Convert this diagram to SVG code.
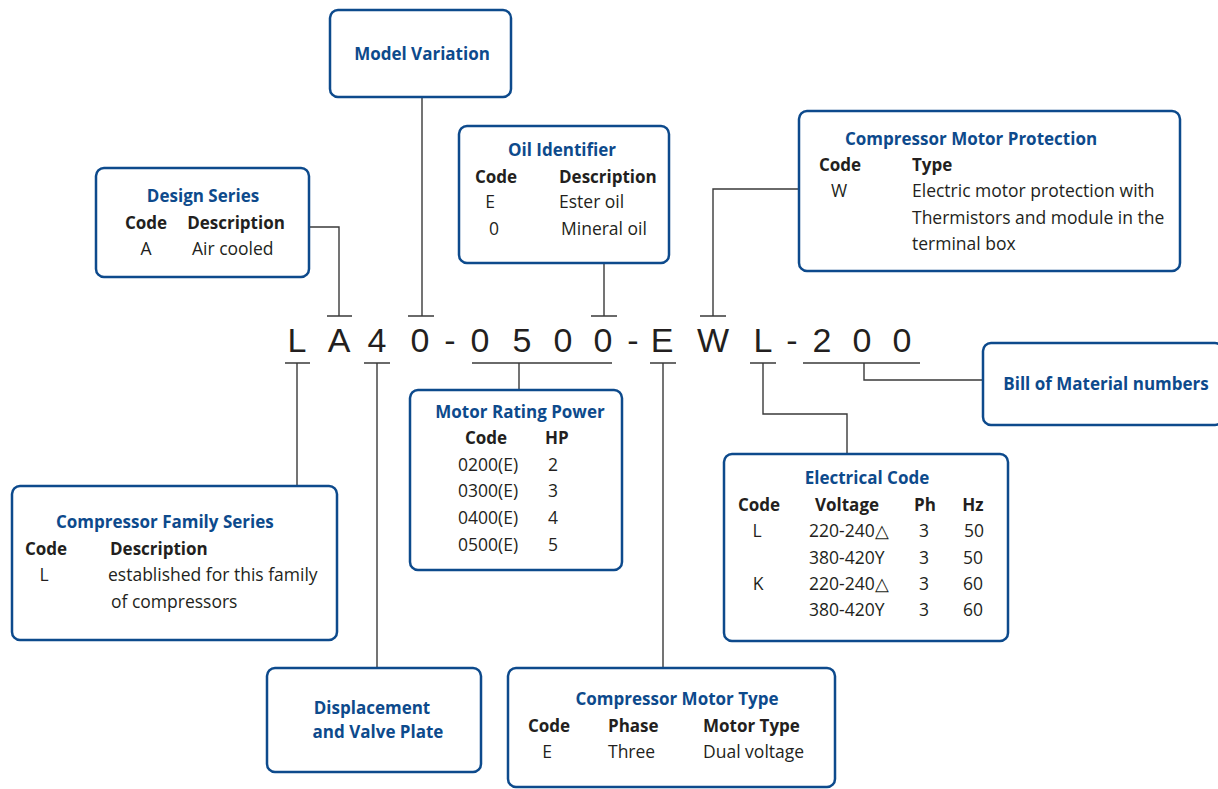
<svg xmlns="http://www.w3.org/2000/svg" width="1218" height="789" viewBox="0 0 1218 789">
<style>
.box{fill:#fff;stroke:#0d4a8c;stroke-width:2.5}
.ttl{font-family:"Open Sans","Noto Sans",sans-serif;font-weight:bold;font-size:17px;fill:#0d4a8c}
.hd{font-family:"Open Sans","Noto Sans",sans-serif;font-weight:bold;font-size:17px;fill:#231f20}
.tx{font-family:"Open Sans","Noto Sans",sans-serif;font-size:17.5px;fill:#231f20}
.m{text-anchor:middle}
.code{font-family:"Liberation Sans",Arial,sans-serif;font-size:34px;fill:#231f20;text-anchor:middle}
.ln{fill:none;stroke:#3a3a3a;stroke-width:1.4}
</style>
<rect width="1218" height="789" fill="#fff"/>
<g id="connectors">
<path class="ln" d="M309,227 H339 V316 M327,316 H352"/>
<path class="ln" d="M422,97 V316 M408,316 H434"/>
<path class="ln" d="M604,263 V316 M591,316 H617"/>
<path class="ln" d="M799,189 H713 V316 M700,316 H726"/>
<path class="ln" d="M285,363 H310 M297,363 V486"/>
<path class="ln" d="M364,363 H390 M377,363 V668"/>
<path class="ln" d="M472,363 H612 M519,363 V390"/>
<path class="ln" d="M650,363 H676 M663,363 V668"/>
<path class="ln" d="M750,363 H776 M763,363 V414 H847 V454"/>
<path class="ln" d="M803,363 H920 M864,363 V380 H983"/>
</g>
<g id="code-string">
<text class="code" x="297" y="352">L</text>
<text class="code" x="339" y="352">A</text>
<text class="code" x="377" y="352">4</text>
<text class="code" x="420" y="352">0</text>
<text class="code" x="450" y="352">-</text>
<text class="code" x="480" y="352">0</text>
<text class="code" x="522" y="352">5</text>
<text class="code" x="563" y="352">0</text>
<text class="code" x="603" y="352">0</text>
<text class="code" x="633" y="352">-</text>
<text class="code" x="662" y="352">E</text>
<text class="code" x="713" y="352">W</text>
<text class="code" x="763" y="352">L</text>
<text class="code" x="792" y="352">-</text>
<text class="code" x="822" y="352">2</text>
<text class="code" x="862" y="352">0</text>
<text class="code" x="902" y="352">0</text>
</g>
<g id="model-variation">
<rect class="box" x="330" y="10" width="181" height="87" rx="8"/>
<text class="ttl m" x="422" y="60">Model Variation</text>
</g>
<g id="design-series">
<rect class="box" x="96" y="168" width="213" height="109" rx="8"/>
<text class="ttl m" x="203" y="202">Design Series</text>
<text class="hd m" x="146" y="229">Code</text>
<text class="hd m" x="236" y="229">Description</text>
<text class="tx m" x="146" y="255">A</text>
<text class="tx" x="192" y="255">Air cooled</text>
</g>
<g id="oil-identifier">
<rect class="box" x="459" y="126" width="210" height="137" rx="8"/>
<text class="ttl m" x="562" y="156">Oil Identifier</text>
<text class="hd" x="475" y="183">Code</text>
<text class="hd" x="559" y="183">Description</text>
<text class="tx m" x="490" y="208">E</text>
<text class="tx" x="559" y="208">Ester oil</text>
<text class="tx m" x="494" y="235">0</text>
<text class="tx" x="561" y="235">Mineral oil</text>
</g>
<g id="motor-protection">
<rect class="box" x="799" y="111" width="381" height="160" rx="8"/>
<text class="ttl" x="845" y="145">Compressor Motor Protection</text>
<text class="hd" x="819" y="171">Code</text>
<text class="hd" x="912" y="171">Type</text>
<text class="tx m" x="839" y="197">W</text>
<text class="tx" x="912" y="197">Electric motor protection with</text>
<text class="tx" x="912" y="224">Thermistors and module in the</text>
<text class="tx" x="912" y="250">terminal box</text>
</g>
<g id="bill-of-material">
<rect class="box" x="983" y="343" width="240" height="82" rx="8"/>
<text class="ttl m" x="1106" y="390">Bill of Material numbers</text>
</g>
<g id="motor-rating-power">
<rect class="box" x="410" y="390" width="212" height="180" rx="8"/>
<text class="ttl m" x="520" y="418">Motor Rating Power</text>
<text class="hd" x="465" y="444">Code</text>
<text class="hd" x="545" y="444">HP</text>
<text class="tx" x="458" y="471">0200(E)</text><text class="tx m" x="553" y="471">2</text>
<text class="tx" x="458" y="497">0300(E)</text><text class="tx m" x="553" y="497">3</text>
<text class="tx" x="458" y="524">0400(E)</text><text class="tx m" x="553" y="524">4</text>
<text class="tx" x="458" y="551">0500(E)</text><text class="tx m" x="553" y="551">5</text>
</g>
<g id="electrical-code">
<rect class="box" x="724" y="454" width="284" height="187" rx="8"/>
<text class="ttl m" x="867" y="484">Electrical Code</text>
<text class="hd" x="738" y="511">Code</text>
<text class="hd m" x="847" y="511">Voltage</text>
<text class="hd m" x="925" y="511">Ph</text>
<text class="hd m" x="973" y="511">Hz</text>
<text class="tx m" x="757" y="537">L</text><text class="tx" x="809" y="537">220-240△</text><text class="tx m" x="924" y="537">3</text><text class="tx m" x="974" y="537">50</text>
<text class="tx" x="809" y="564">380-420Y</text><text class="tx m" x="924" y="564">3</text><text class="tx m" x="973" y="564">50</text>
<text class="tx m" x="758" y="590">K</text><text class="tx" x="809" y="590">220-240△</text><text class="tx m" x="924" y="590">3</text><text class="tx m" x="973" y="590">60</text>
<text class="tx" x="809" y="616">380-420Y</text><text class="tx m" x="924" y="616">3</text><text class="tx m" x="973" y="616">60</text>
</g>
<g id="compressor-family-series">
<rect class="box" x="12" y="486" width="325" height="154" rx="8"/>
<text class="ttl" x="56" y="528">Compressor Family Series</text>
<text class="hd" x="25" y="555">Code</text>
<text class="hd" x="110" y="555">Description</text>
<text class="tx m" x="44" y="581">L</text>
<text class="tx" x="108" y="581">established for this family</text>
<text class="tx" x="111" y="608">of compressors</text>
</g>
<g id="displacement">
<rect class="box" x="267" y="668" width="214" height="104" rx="8"/>
<text class="ttl m" x="372" y="714">Displacement</text>
<text class="ttl m" x="378" y="738">and Valve Plate</text>
</g>
<g id="motor-type">
<rect class="box" x="508" y="668" width="327" height="119" rx="8"/>
<text class="ttl m" x="677" y="705">Compressor Motor Type</text>
<text class="hd" x="528" y="732">Code</text>
<text class="hd" x="608" y="732">Phase</text>
<text class="hd" x="703" y="732">Motor Type</text>
<text class="tx m" x="547" y="758">E</text>
<text class="tx" x="608" y="758">Three</text>
<text class="tx" x="703" y="758">Dual voltage</text>
</g>
</svg>
